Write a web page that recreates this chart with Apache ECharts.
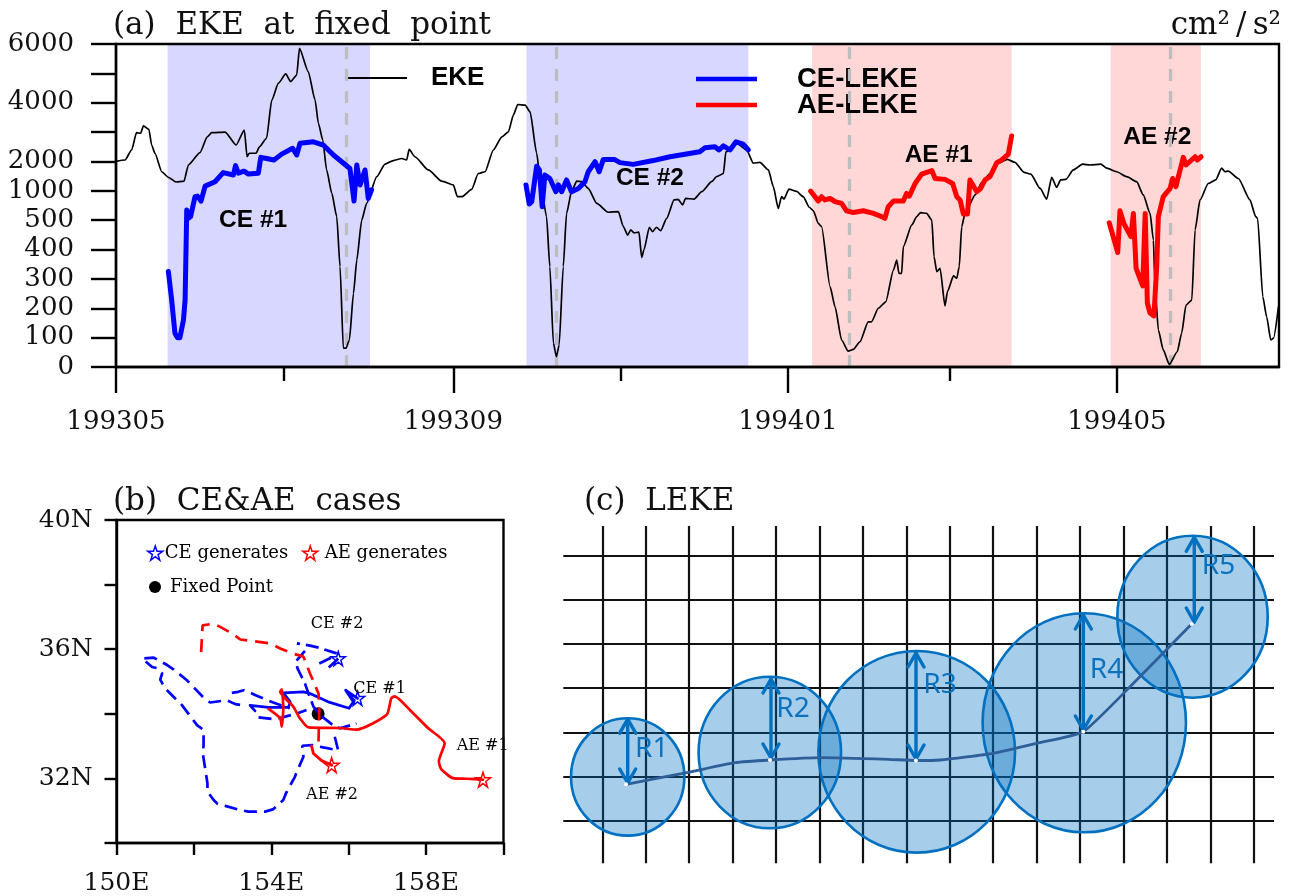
<!DOCTYPE html>
<html><head><meta charset="utf-8">
<style>html,body{margin:0;padding:0;background:#fff}#c{width:1300px;height:896px}</style>
<script src="https://cdn.jsdelivr.net/npm/echarts@6/dist/echarts.min.js"></script>
</head><body><div id="c"></div>
<script>
// ---------- Panel (a): days since 1 May 1993, EKE in cm2/s2 ----------
const yTicks=[0,100,200,300,400,500,1000,2000,3000,4000,5000,6000];
const yTickLabels=['0','100','200','300','400','500','1000','2000','','4000','','6000'];
const xMajorDays=[0,123,245,365];
const xMajorLabels=['199305','199309','199401','199405'];
const xMinorDays=[61,184,304];
const eke=[[0,2000],[3.3,2050],[5.7,2390],[7.5,2980],[9,2960],[10,3210],[12,3090],[13,2560],[14.2,2280],[16.7,1650],[19.1,1460],[21.9,1300],[24.8,1330],[26.4,1880],[30.6,2300],[33.3,2840],[34.9,2980],[39.8,3000],[43.8,2560],[46.8,3070],[47.8,2160],[48.6,2280],[51.1,2280],[52.3,2500],[54.9,2790],[56.8,4090],[59.2,4660],[61.9,4980],[63.7,4720],[65.9,4940],[66.9,5850],[70.1,5060],[72.6,4090],[73.8,3300],[75.4,2730],[76.8,1710],[78.7,955],[80.5,560],[81.7,342],[82.9,64],[83.9,64],[85.1,92],[86.6,251],[87.8,364],[89.6,500],[91.4,785],[95.1,1480],[98.1,1910],[101.1,2030],[104.2,2100],[106,2050],[106.9,2410],[109,2160],[113.9,1710],[118.8,1330],[123,1200],[124.5,900],[126.1,900],[129.7,1050],[132.1,1590],[134.6,1650],[137.6,2390],[140.7,2840],[143.1,3010],[144.9,3580],[146.5,3940],[149.2,3920],[151,3690],[153.4,2280],[154.6,1480],[157,560],[158.2,342],[159.5,81],[160.6,35],[161.6,75],[163.1,342],[164.3,615],[166.1,985],[168,1330],[169.8,1310],[172.2,1080],[175.3,785],[179.5,635],[183.2,645],[185,478],[186.6,449],[187.7,467],[188.9,457],[190.7,459],[191.7,373],[192.5,398],[194.5,476],[195.6,461],[197.1,476],[198.6,464],[200.8,530],[203.5,845],[205,855],[206.6,760],[207.7,870],[210.8,860],[213.6,985],[217.2,1310],[219,1480],[221.5,1590],[222.4,2330],[223.9,2390],[226.3,2620],[230,2390],[232.4,1940],[234.8,1970],[237.9,1710],[239.7,1140],[241.5,700],[242.7,900],[243.6,860],[245.4,1060],[248.2,990],[250.6,900],[252.8,720],[254.3,660],[256.1,489],[257.3,478],[260.4,274],[262.2,205],[264.6,92],[267,54],[268.9,60],[271.3,86],[274.3,154],[275.5,154],[278,200],[280.7,222],[283.5,330],[284.7,364],[285.5,319],[286.5,319],[287.1,410],[290.2,484],[292,560],[293.4,630],[295.6,615],[297.5,500],[298.3,376],[299.3,325],[300.5,336],[302.3,208],[303.2,257],[305.4,310],[306.6,302],[307.5,342],[308.4,478],[309.6,615],[313.3,930],[315.7,1290],[318.7,1590],[321.8,1940],[325,2070],[327.8,1970],[331.1,1630],[333.6,1570],[337,1080],[339.4,860],[341.2,1460],[343,1120],[344.5,1370],[346.4,1390],[349.1,1710],[352.5,1910],[355.2,1880],[359.1,1910],[361.3,1770],[364.9,1650],[368.6,1480],[372.2,1310],[374.6,930],[377.1,615],[378.3,432],[378.9,274],[380.1,126],[381.9,58],[384.1,9],[387,52],[388.6,115],[390.2,211],[392.3,228],[393.5,467],[395.3,845],[398.3,1250],[401,1370],[403.2,1770],[404.4,1650],[405.6,1670],[409.3,1420],[413.5,845],[415.6,560],[416.3,530],[418.2,239],[419.6,171],[421.1,92],[422.1,98],[423.9,205]];
const ce1Leke=[[19.1,325],[20.3,228],[21.5,115],[22.4,100],[23.3,100],[24.6,160],[25.2,228],[25.8,675],[26.4,530],[27.2,560],[28.8,900],[29.7,910],[31,825],[32.5,1160],[36.1,1310],[39.1,1620],[42.8,1540],[43.6,1860],[44.6,1600],[46.7,1670],[48.3,1570],[51.9,1600],[52.8,2140],[54.9,2100],[57.6,2050],[60.4,2250],[64.4,2450],[65.9,2220],[67.1,2620],[72,2670],[75.6,2560],[79.3,2220],[85.3,1760],[86.8,825],[87.8,1880],[89,1200],[90.8,1710],[92,870],[93.2,1030]];
const ce2Leke=[[149.5,1200],[150.7,775],[151.6,815],[153.4,1840],[154.4,1710],[155.4,730],[156.4,1540],[158.2,1420],[160.4,985],[161.3,1200],[162.5,985],[164.3,1370],[166.1,985],[168.6,1080],[171,1310],[172.2,1650],[174.7,1990],[176.2,1650],[177.7,2070],[181.7,2070],[183.8,1960],[188.6,1900],[195.9,2030],[202,2160],[212.9,2330],[214.8,2470],[218.4,2500],[219.9,2390],[221.5,2530],[223.9,2390],[226.1,2670],[228.7,2590],[230.6,2390]];
const ae1Leke=[[253.3,995],[256.1,825],[257.3,900],[258.5,845],[260.4,870],[262.2,815],[264.6,785],[266.4,660],[268.9,630],[272.5,660],[276.2,615],[279.2,560],[280.4,530],[281.6,730],[283.5,825],[287.1,825],[288.3,955],[289.3,910],[291.4,1250],[293.8,1570],[297.5,1690],[298.7,1420],[302.3,1390],[305.1,1250],[306.6,900],[307.8,845],[309,605],[310.5,605],[311.4,1370],[313.9,985],[315.3,1080],[316.9,1370],[318.7,1480],[321.2,1960],[323,2050],[325.4,2250],[326.6,2870]];
const ae2Leke=[[362.2,491],[365.3,390],[366.1,660],[367.6,487],[370.1,444],[371,615],[372,336],[374.4,276],[375.3,615],[376.1,217],[377.1,183],[378.5,174],[379.5,342],[380.1,560],[381.9,900],[384.4,1080],[385.3,1420],[386.5,1140],[389.2,2140],[390.2,1880],[393.5,2160],[394.3,2050],[395.7,2160]];
const ceShade=[[18.8,92.6],[149.7,230.6]];
const aeShade=[[253.8,326.6],[362.7,395.6]];
const passDays=[83.8,160.6,267.4,384.4];
const caseLabels=[['CE #1',50,500],['CE #2',194.7,1440],['AE #1',300,2220],['AE #2',379.7,2830]];

// ---------- Panel (b): tracks, [lon, lat] ----------
const lonTicks=[150,154,158];
const latTicks=[40,36,32];
const ae1Track=[[159.47,31.96],[159.04,31.99],[158.69,32.01],[158.39,32.29],[158.33,32.53],[158.48,33.09],[158.05,33.56],[157.58,34.12],[157.19,34.54],[157.1,34.48],[156.98,33.97],[156.2,33.51],[155.77,33.56],[154.96,33.58],[154.74,33.86],[154.57,34.22],[154.36,34.48],[154.23,34.68],[154.27,34.76],[154.31,34.17],[154.27,33.6],[154.23,33.86],[153.93,34.15]];
const ae2Solid=[[155.56,32.41],[155.3,32.55],[155.09,32.77],[155.04,33.0]];
const ae2Dashed=[[155.22,33.14],[155.24,34.12],[155.22,34.63],[155.0,35.25],[154.83,35.77],[154.57,35.86],[154.23,36.02],[153.97,36.18],[153.54,36.25],[153.2,36.3],[152.98,36.49],[152.68,36.69],[152.51,36.79],[152.225,36.74],[152.18,35.78]];
const ce1Solid=[[156.23,34.48],[155.92,34.73],[156.12,34.37],[156.01,34.17],[155.47,34.37],[155.0,34.63],[154.83,34.68],[154.31,34.65],[154.49,34.37],[154.44,34.2],[153.93,34.2],[153.45,34.26],[153.58,34.09]];
const ce1Dashed=[[153.67,33.89],[154.1,33.83],[154.66,34.01],[154.91,34.12]];
const ce2Near=[[155.73,35.71],[155.43,35.37],null,[155.24,35.56],[155.64,35.79],null,[155.69,35.87],[155.22,36.05],[155.0,36.11],[154.66,36.18],null,[154.87,35.95],[154.63,35.61],[154.68,35.4],[154.87,34.94],[154.96,34.63],[155.09,34.22],[155.26,33.96],[155.56,33.68],[155.77,33.55],[156.2,33.7]];
const ce2Loop=[[155.64,33.29],[155.73,32.86],[155.6,32.9],[155.34,32.96],[155.06,33.03],[154.8,33.01],[154.83,32.67],[154.68,32.26],[154.61,32.05],[154.38,31.54],[154.31,31.33],[154.04,31.04],[153.84,30.97],[153.41,30.97],[153.2,31.02],[152.81,31.15],[152.61,31.21],[152.51,31.33],[152.35,31.59],[152.35,31.85],[152.23,32.77],[152.25,33.03],[152.25,33.34],[152.25,33.5],[152.08,33.65],[151.95,33.86],[151.69,34.27],[151.26,34.78],[151.13,35.06],[151.18,35.25],[151.09,35.4],[150.92,35.45],[150.66,35.71],[150.96,35.74],[151.31,35.51],[151.48,35.37],[151.82,35.04],[152.25,34.5],[152.42,34.35],[152.85,34.42],[153.07,34.3],[153.24,34.27],null,[152.98,34.65],[153.15,34.68],[153.28,34.73],[153.5,34.63],[153.58,34.58],[154.05,34.35],[154.48,34.17]];
const ceStars=[[156.23,34.48],[155.73,35.71]];
const aeStars=[[159.47,31.96],[155.56,32.41]];
const fixedPoint=[[155.21,34.0]];
const trackLabels=[['CE #2',155.7,36.77],['CE #1',156.8,34.76],['AE #1',159.46,33.0],['AE #2',155.57,31.48]];

// ---------- Panel (c): schematic in grid-cell units ----------
const gridColumns=[0,1,2,3,4,5,6,7,8,9,10,11,12,13,14,15];
const gridRows=[0,1,2,3,4,5,6];
const eddies=[[0.585,0.994,1.305,1.325],[3.857,1.547,1.64,1.712],[7.239,1.563,2.264,2.277],[11.098,2.218,2.341,2.473],[13.59,4.614,1.731,1.829]];
const radiusArrows=[[0.585,2.3,0.858],[3.884,3.207,1.423],[7.223,3.794,1.4],[11.076,4.652,2.055],[13.63,6.407,4.494]];
const eddyPath=[[0.546,0.829],[1.98,1.1],[3.055,1.317],[3.861,1.378],[5.05,1.43],[6.585,1.393],[7.22,1.366],[7.776,1.378],[9,1.529],[10,1.755],[11.075,2.017],[12.23,3.11],[13.57,4.449]];
const eddyCentres=[[0.546,0.829],[3.861,1.378],[7.22,1.366],[11.075,2.017],[13.57,4.449]];
const radiusLabels=[['R1',1.137,1.626],['R2',4.39,2.53],['R3',7.776,3.07],['R4',11.61,3.41],['R5',14.19,5.76]];

// ---------- helpers ----------
const SERIF='"DejaVu Serif"';
function toAxis(v){
  for(let i=0;i<yTicks.length-1;i++){
    if(v<=yTicks[i+1]) return i+(v-yTicks[i])/(yTicks[i+1]-yTicks[i]);
  }
  return yTicks.length-1;
}
const scaled=a=>a.map(p=>[p[0],toAxis(p[1])]);
const conn=a=>a.map(p=>p===null?[null,null]:p);
const STAR='path://M50 2L61 36L98 36L68 58L79 93L50 71L21 93L32 58L2 36L39 36Z';
function textSeries(xi,yi,rows,style,z,toY){
  return {type:'scatter',xAxisIndex:xi,yAxisIndex:yi,silent:true,z:z,symbolSize:1,
    itemStyle:{color:'transparent',opacity:1},clip:false,
    data:rows.map(r=>({name:r[0],value:[r[1],toY?toY(r[2]):r[2]]})),
    label:Object.assign({show:true,position:'inside',formatter:'{b}'},style)};
}
function lineS(name,xi,yi,data,color,width,z,extra){
  return Object.assign({type:'line',name:name,xAxisIndex:xi,yAxisIndex:yi,data:data,symbol:'none',
    showSymbol:false,silent:true,z:z,connectNulls:false,animation:false,
    lineStyle:{color:color,width:width,cap:'round',join:'round'},itemStyle:{color:color}},extra||{});
}
function ellipseItem(params,api){
  const c=api.coord([api.value(0),api.value(1)]);
  const s=api.size([api.value(2),api.value(3)]);
  return {type:'ellipse',shape:{cx:c[0],cy:c[1],rx:s[0],ry:s[1]},
    style:{fill:'rgba(0,112,192,0.35)',stroke:'#0070c0',lineWidth:2.6}};
}
function arrowItem(params,api){
  const a=api.coord([api.value(0),api.value(1)]);
  const b=api.coord([api.value(0),api.value(2)]);
  const st={fill:null,stroke:'#0070c0',lineWidth:3.4,lineCap:'round',lineJoin:'round'};
  const hw=8,hl=14;
  return {type:'group',children:[
    {type:'line',shape:{x1:a[0],y1:a[1],x2:b[0],y2:b[1]},style:st},
    {type:'polyline',shape:{points:[[a[0]-hw,a[1]+hl],[a[0],a[1]],[a[0]+hw,a[1]+hl]]},style:st},
    {type:'polyline',shape:{points:[[b[0]-hw,b[1]-hl],[b[0],b[1]],[b[0]+hw,b[1]-hl]]},style:st}
  ]};
}
const tickLine={color:'#000',width:2.4};
const axisBase={color:'#000',width:2.4};
const titleText={fontFamily:SERIF,fontSize:31,fontWeight:'normal',color:'#111'};

const option={
  animation:false,backgroundColor:'#fff',
  title:[
    {text:'(a)  EKE  at  fixed  point',left:113,top:10,textStyle:titleText,padding:0},
    {text:'cm²\u2009/\u2009s²',right:19,top:10,textStyle:titleText,padding:0},
    {text:'(b)  CE&AE  cases',left:113,top:486,textStyle:titleText,padding:0},
    {text:'(c)  LEKE',left:584,top:486,textStyle:titleText,padding:0}
  ],
  grid:[
    {left:116,top:44,width:1163,height:323,show:true,borderColor:'#000',borderWidth:2.4,backgroundColor:'transparent',z:9},
    {left:116.5,top:520,width:387,height:323,show:true,borderColor:'#000',borderWidth:2.4,backgroundColor:'transparent',z:9},
    {left:563.3,top:526,width:710.7,height:337.3,show:false}
  ],
  xAxis:[
    {type:'value',gridIndex:0,position:'bottom',min:0,max:424.1,z:9,
      axisLine:{onZero:false,lineStyle:axisBase},splitLine:{show:false},
      axisTick:{show:true,length:26,lineStyle:tickLine,customValues:xMajorDays},
      axisLabel:{show:true,customValues:xMajorDays,margin:42,color:'#111',fontFamily:SERIF,fontSize:26,
        formatter:v=>xMajorLabels[xMajorDays.indexOf(v)]||''}},
    {type:'value',gridIndex:0,position:'bottom',min:0,max:424.1,z:9,
      axisLine:{show:false,onZero:false},splitLine:{show:false},
      axisTick:{show:true,length:14,lineStyle:tickLine,customValues:xMinorDays},
      axisLabel:{show:false}},
    {type:'value',gridIndex:1,position:'bottom',min:150,max:160,interval:2,z:9,
      axisLine:{onZero:false,lineStyle:axisBase},splitLine:{show:false},
      axisTick:{length:12,lineStyle:tickLine},
      axisLabel:{margin:28,color:'#111',fontFamily:SERIF,fontSize:25,showMinLabel:true,showMaxLabel:true,
        formatter:v=>lonTicks.includes(v)?v+'E':''}},
    {type:'value',gridIndex:2,min:-0.898,max:15.466,
      axisLine:{show:false},axisLabel:{show:false},
      axisTick:{show:false,customValues:gridColumns},
      splitLine:{show:true,lineStyle:{color:'#111',width:2.2,type:'solid'}}}
  ],
  yAxis:[
    {type:'value',gridIndex:0,min:0,max:11,interval:1,z:9,
      axisLine:{onZero:false,lineStyle:axisBase},splitLine:{show:false},
      axisTick:{length:25,lineStyle:tickLine},
      axisLabel:{margin:42,color:'#111',fontFamily:SERIF,fontSize:26,showMinLabel:true,showMaxLabel:true,padding:[7,0,0,0],
        formatter:v=>yTickLabels[Math.round(v)]}},
    {type:'value',gridIndex:1,min:30,max:40,interval:2,z:9,
      axisLine:{onZero:false,lineStyle:axisBase},splitLine:{show:false},
      axisTick:{length:12,lineStyle:tickLine},
      axisLabel:{margin:24,color:'#111',fontFamily:SERIF,fontSize:25,showMinLabel:true,showMaxLabel:true,padding:[7,0,0,0],
        formatter:v=>latTicks.includes(v)?v+'N':''}},
    {type:'value',gridIndex:2,min:-0.955,max:6.662,
      axisLine:{show:false},axisLabel:{show:false},
      axisTick:{show:false,customValues:gridRows},
      splitLine:{show:true,lineStyle:{color:'#111',width:2.2,type:'solid'}}}
  ],
  legend:[
    {data:[{name:'EKE',icon:'rect',itemStyle:{color:'#000'}}],left:348,top:65,itemWidth:59,itemHeight:1.8,selectedMode:false,z:3,padding:0,
      textStyle:{fontFamily:'"Liberation Sans"',fontWeight:'bold',fontSize:26,color:'#000',padding:[0,0,0,19]}},
    {data:[{name:'CE-LEKE',icon:'rect',itemStyle:{color:'#0000ff'}}],left:696,top:65,itemWidth:61,itemHeight:4.5,selectedMode:false,z:3,padding:0,
      textStyle:{fontFamily:'"Liberation Sans"',fontWeight:'bold',fontSize:27.5,color:'#000',padding:[0,0,0,35]}},
    {data:[{name:'AE-LEKE',icon:'rect',itemStyle:{color:'#ff0000'}}],left:696,top:91,itemWidth:61,itemHeight:4.5,selectedMode:false,z:3,padding:0,
      textStyle:{fontFamily:'"Liberation Sans"',fontWeight:'bold',fontSize:27.5,color:'#000',padding:[0,0,8,35]}},
    {data:[{name:'CE generates',icon:STAR,itemStyle:{color:'rgba(0,0,0,0)',borderColor:'#0000ff',borderWidth:1.5}}],
      left:147,top:544,itemWidth:15,itemHeight:15,selectedMode:false,padding:0,
      textStyle:{fontFamily:SERIF,fontSize:18,color:'#000',padding:[0,0,0,-3]}},
    {data:[{name:'AE generates',icon:STAR,itemStyle:{color:'rgba(0,0,0,0)',borderColor:'#ff0000',borderWidth:1.5}}],
      left:302,top:544,itemWidth:15,itemHeight:15,selectedMode:false,padding:0,
      textStyle:{fontFamily:SERIF,fontSize:18,color:'#000',padding:[0,0,0,2]}},
    {data:[{name:'Fixed Point',icon:'circle',itemStyle:{color:'#000'}}],
      left:149,top:578,itemWidth:12,itemHeight:12,selectedMode:false,padding:0,
      textStyle:{fontFamily:SERIF,fontSize:18,color:'#000',padding:[0,0,0,4]}}
  ],
  series:[
    // panel a
    lineS('EKE',0,0,scaled(eke),'#000',1.7,5,{smooth:0.2,smoothMonotone:'x',
      markArea:{silent:true,z:1,itemStyle:{opacity:1},data:[
        ...ceShade.map(r=>[{xAxis:r[0],itemStyle:{color:'#d7d7ff'}},{xAxis:r[1]}]),
        ...aeShade.map(r=>[{xAxis:r[0],itemStyle:{color:'#ffd7d7'}},{xAxis:r[1]}])]},
      markLine:{silent:true,z:4,symbol:'none',label:{show:false},
        lineStyle:{color:'#bdbdbd',width:3.3,type:[12,10]},data:passDays.map(d=>({xAxis:d}))}
    }),
    lineS('CE-LEKE',0,0,scaled(ce1Leke),'#0000ff',5,6),
    lineS('CE-LEKE',0,0,scaled(ce2Leke),'#0000ff',5,6),
    lineS('AE-LEKE',0,0,scaled(ae1Leke),'#ff0000',5,6),
    lineS('AE-LEKE',0,0,scaled(ae2Leke),'#ff0000',5,6),
    textSeries(0,0,caseLabels,{fontFamily:'"Liberation Sans"',fontWeight:'bold',fontSize:24.5,color:'#000'},3,toAxis),
    // panel b
    {type:'scatter',name:'Fixed Point',xAxisIndex:2,yAxisIndex:1,data:fixedPoint,symbol:'circle',symbolSize:13,silent:true,z:2,itemStyle:{color:'#000',opacity:1}},
    lineS('AE #1 track',2,1,ae1Track,'#ff0000',2.7,4,{smooth:0.2}),
    lineS('AE #2 track',2,1,ae2Solid,'#ff0000',2.9,4),
    lineS('AE #2 dashed',2,1,ae2Dashed,'#ff0000',2.7,4,{lineStyle:{color:'#ff0000',width:2.7,type:[13,8]}}),
    lineS('CE #1 track',2,1,ce1Solid,'#0000ff',2.7,3),
    lineS('CE #1 dashed',2,1,ce1Dashed,'#0000ff',2.7,3,{lineStyle:{color:'#0000ff',width:2.7,type:[13,7]}}),
    lineS('CE #2 near',2,1,conn(ce2Near),'#0000ff',2.7,3,{lineStyle:{color:'#0000ff',width:2.7,type:[13,6]}}),
    lineS('CE #2 loop',2,1,conn(ce2Loop),'#0000ff',2.7,3,{lineStyle:{color:'#0000ff',width:2.7,type:[13,7]}}),
    {type:'scatter',name:'CE generates',xAxisIndex:2,yAxisIndex:1,data:ceStars,symbol:STAR,symbolSize:14,silent:true,z:5,
      itemStyle:{color:'rgba(0,0,0,0)',borderColor:'#0000ff',borderWidth:1.5,opacity:1}},
    {type:'scatter',name:'AE generates',xAxisIndex:2,yAxisIndex:1,data:aeStars,symbol:STAR,symbolSize:15,silent:true,z:5,
      itemStyle:{color:'rgba(0,0,0,0)',borderColor:'#ff0000',borderWidth:1.5,opacity:1}},
    textSeries(2,1,trackLabels,{fontFamily:SERIF,fontSize:16,color:'#000'},6),
    // panel c
    {type:'custom',name:'Eddy extent',xAxisIndex:3,yAxisIndex:2,coordinateSystem:'cartesian2d',data:eddies,renderItem:ellipseItem,silent:true,z:2,clip:false},
    lineS('Eddy path',3,2,eddyPath,'#2e5f99',2.8,3,{smooth:0.15}),
    {type:'custom',name:'Radius',xAxisIndex:3,yAxisIndex:2,coordinateSystem:'cartesian2d',data:radiusArrows,renderItem:arrowItem,silent:true,z:4,clip:false,
      encode:{x:0,y:[1,2]}},
    {type:'scatter',name:'Centre',xAxisIndex:3,yAxisIndex:2,data:eddyCentres,symbol:'circle',symbolSize:4,silent:true,z:5,itemStyle:{color:'#fff',opacity:1}},
    textSeries(3,2,radiusLabels,{fontFamily:'"Noto Sans"',fontSize:28,color:'#0a72bf'},6)
  ]
};
const chart=echarts.init(document.getElementById('c'),null,{renderer:'canvas',width:1300,height:896});
chart.setOption(option);
</script></body></html>
